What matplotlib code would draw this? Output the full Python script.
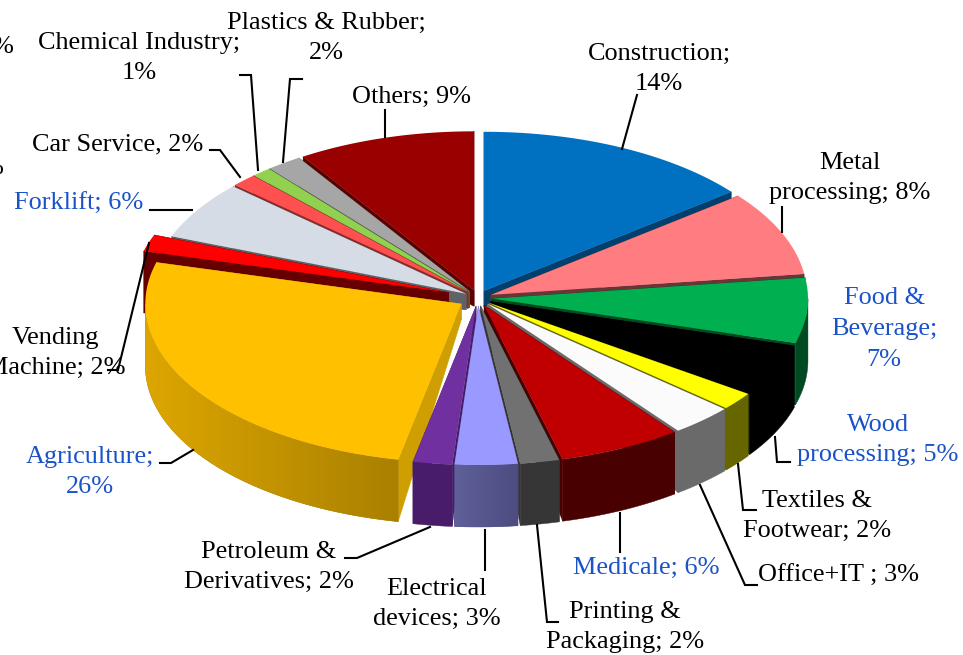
import numpy as np
import matplotlib
matplotlib.use("Agg")
import matplotlib.pyplot as plt
from matplotlib.colors import LinearSegmentedColormap
from matplotlib.patches import Polygon

# shares (the printed labels are rounded)
sectors = ["Construction", "Metal processing", "Food & Beverage", "Wood processing",
           "Textiles & Footwear", "Office+IT", "Medicale", "Printing & Packaging",
           "Electrical devices", "Petroleum & Derivatives", "Agriculture",
           "Vending Machine", "Forklift", "Car Service", "Chemical Industry",
           "Plastics & Rubber", "Others"]
shares = [14.3, 8.6, 6.6, 5.2, 1.8, 3.2, 6.3, 2.0, 3.2, 2.0, 26.0, 1.7, 5.9, 1.3, 1.0, 1.8, 9.1]
pull = [1, 1, 1, 1, 1, 1, 1, 1, 1, 1, 1.4, 2.2, 1, 1, 1, 1, 1]

top_colors = ["#0070C0", "#FF7C80", "#00B050", "#000000", "#FFFF00", "#FBFBFB", "#C00000",
              "#717171", "#9999FF", "#7030A0", "#FFC000", "#FF0000", "#D6DCE5", "#FF5050",
              "#92D050", "#A6A6A6", "#990000"]
wall_left = ["#003F6E", "#6B3436", "#004A22", "#000000", "#666600", "#6A6A6A", "#480000",
             "#363636", "#60609A", "#481C68", "#DDA600", "#660000", "#5F6368", "#8A2A2A",
             "#50762A", "#555555", "#5A0000"]
wall_right = ["#003F6E", "#6B3436", "#004A22", "#000000", "#666600", "#6A6A6A", "#480000",
              "#363636", "#4C4C80", "#481C68", "#A98000", "#660000", "#5F6368", "#8A2A2A",
              "#50762A", "#555555", "#5A0000"]
cut_colors = ["#003F6E", "#6B3436", "#004A22", "#000000", "#666600", "#6A6A6A", "#480000",
              "#363636", "#60609A", "#481C68", "#CF9E00", "#660000", "#5F6368", "#8A2A2A",
              "#50762A", "#555555", "#5A0000"]

# text, x, y, blue?
labels = [
    ("Construction;\n14%", 659, 69, False),
    ("Metal\nprocessing; 8%", 850, 178, False),
    ("Food &\nBeverage;\n7%", 884, 329, True),
    ("Wood\nprocessing; 5%", 878, 440, True),
    ("Textiles &\nFootwear; 2%", 817, 516, False),
    ("Office+IT ; 3%", 839, 576, False),
    ("Medicale; 6%", 646, 568, True),
    ("Printing &\nPackaging; 2%", 625, 627, False),
    ("Electrical\ndevices; 3%", 437, 604, False),
    ("Petroleum &\nDerivatives; 2%", 269, 567, False),
    ("Agriculture;\n26%", 90, 472, True),
    ("Vending\nMachine; 2%", 55, 353, False),
    ("Forklift; 6%", 79, 204, True),
    ("Car Service, 2%", 118, 144, False),
    ("Chemical Industry;\n1%", 139, 58, False),
    ("Plastics & Rubber;\n2%", 326, 38, False),
    ("Others; 9%", 412, 97, False),
]

leaders = [
    [(637, 95), (622, 149)],
    [(782, 207), (782, 232)],
    [(775, 437), (777, 462), (790, 462)],
    [(738, 464), (743, 510), (756, 510)],
    [(700, 485), (745, 585), (757, 585)],
    [(620, 513), (620, 552)],
    [(537, 525), (547, 622), (558, 622)],
    [(485, 530), (485, 570)],
    [(430, 527), (357, 558), (345, 558)],
    [(193, 450), (171, 463), (160, 463)],
    [(192, 210), (150, 210)],
    [(240, 177), (220, 150), (210, 150)],
    [(258, 170), (251, 75), (240, 75)],
    [(283, 162), (290, 79), (302, 79)],
    [(385, 110), (385, 137)],
    [(149, 243), (118, 370), (108, 370)],
]

plt.rcParams["font.family"] = ["Liberation Serif", "DejaVu Serif"]

cx, cy = 478, 298
rx, ry = 316, 159
kx, ky = 14, 8
depth = 62
apex_depth = 16
font_size = 18.9

fig = plt.figure(figsize=(9.63, 6.55), dpi=100)
ax = fig.add_axes([0, 0, 1, 1])
ax.set_xlim(0, 963)
ax.set_ylim(655, 0)
ax.axis("off")

edges = np.radians(np.concatenate([[0], np.cumsum(shares)]) * 3.6)
mids = (edges[:-1] + edges[1:]) / 2


def rim(t, ox, oy):
    return np.column_stack([ox + rx * np.sin(t), oy - ry * np.cos(t)])


# back slices first, the front ones paint over them
z = 1
for i in np.argsort(-np.cos(mids)):
    t0, t1 = edges[i], edges[i + 1]
    ox = cx + kx * pull[i] * np.sin(mids[i])
    oy = cy - ky * pull[i] * np.cos(mids[i])
    arc = rim(np.linspace(t0, t1, 80), ox, oy)

    for p in (arc[0], arc[-1]):
        ax.add_patch(Polygon([(ox, oy), p, (p[0], p[1] + depth), (ox, oy + apex_depth)],
                             fc=cut_colors[i], ec=cut_colors[i], lw=0.3, zorder=z))

    lo, hi = max(t0, np.pi / 2), min(t1, 3 * np.pi / 2)
    if hi > lo:
        pts = rim(np.linspace(lo, hi, 120), ox, oy)
        wall = np.vstack([pts, pts[::-1] + (0, depth)])
        patch = Polygon(wall, fc=wall_right[i], ec=wall_right[i], lw=0.3, zorder=z + 1)
        ax.add_patch(patch)
        if wall_left[i] != wall_right[i]:
            cmap = LinearSegmentedColormap.from_list("w", [wall_left[i], wall_right[i]])
            im = ax.imshow(np.linspace(0, 1, 256).reshape(1, -1), cmap=cmap, aspect="auto",
                           extent=(wall[:, 0].min(), wall[:, 0].max(), wall[:, 1].max(), wall[:, 1].min()),
                           zorder=z + 2)
            im.set_clip_path(patch)

    ax.add_patch(Polygon(np.vstack([[(ox, oy)], arc]), fc=top_colors[i], ec="none", zorder=z + 3))
    z += 4

ax.set_xlim(0, 963)
ax.set_ylim(655, 0)

for pts in leaders:
    xs, ys = zip(*pts)
    ax.plot(xs, ys, color="black", lw=1.5, solid_joinstyle="miter", zorder=z)

for text, x, y, blue in labels:
    ax.text(x, y, text, ha="center", va="center", fontsize=font_size, linespacing=1.5,
            color="#1A52C8" if blue else "black", zorder=z + 1)

# labels cut off by the left edge of the picture
ax.text(13, 47, "%", ha="right", va="center", fontsize=font_size)
ax.text(3, 168, "%", ha="right", va="center", fontsize=font_size)

fig.savefig("out.png", dpi=100)
